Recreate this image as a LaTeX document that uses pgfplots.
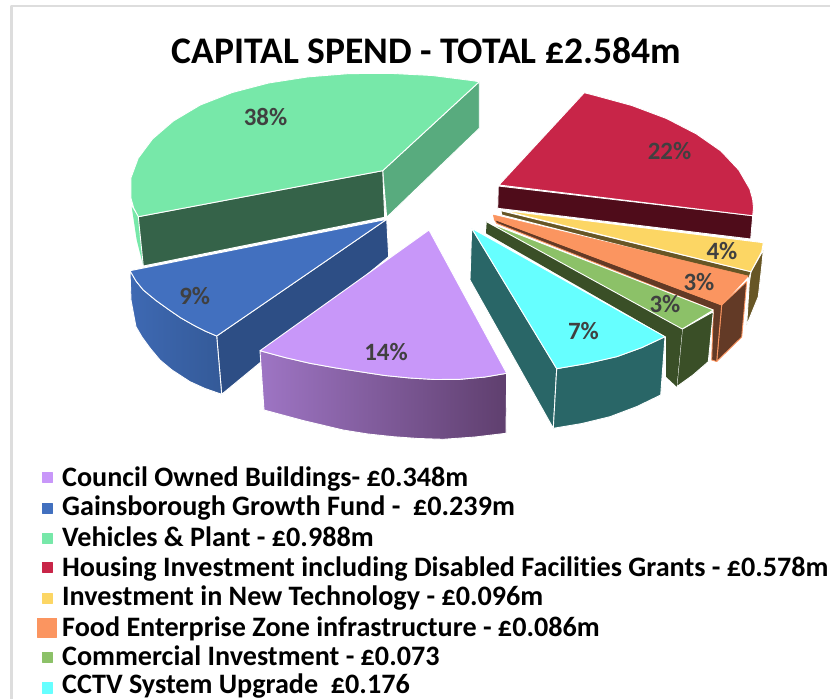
\documentclass[border=0pt]{standalone}
\usepackage{pgfplots}
\pgfplotsset{compat=1.18}
\usepackage{fontspec}
\setmainfont[Ligatures=CommonOff]{Carlito}
\definecolor{veh}{HTML}{77E8A9}\definecolor{vehL}{HTML}{58AB7E}\definecolor{vehD}{HTML}{356349}
\definecolor{gai}{HTML}{4270BF}\definecolor{gaiD}{HTML}{2D4E85}\definecolor{gaiA}{HTML}{3E69B3}\definecolor{gaiB}{HTML}{345A98}
\definecolor{cou}{HTML}{C897F9}\definecolor{couA}{HTML}{9E75C4}\definecolor{couB}{HTML}{5F3F6E}
\definecolor{hou}{HTML}{C82548}\definecolor{houD}{HTML}{4F0C1A}
\definecolor{tec}{HTML}{FCD664}\definecolor{tecD}{HTML}{675625}
\definecolor{foo}{HTML}{FB9560}\definecolor{fooD}{HTML}{633A26}
\definecolor{com}{HTML}{8CC168}\definecolor{comD}{HTML}{3A4F27}
\definecolor{cct}{HTML}{66FFFF}\definecolor{cctD}{HTML}{296667}
\definecolor{frameg}{HTML}{DDDDDD}\definecolor{lab}{HTML}{404040}
\newcommand{\pct}[3]{\node[text=lab,font=\fontsize{25}{27}\selectfont\bfseries] at (axis cs:#1,#2) {#3\%};}
\newcommand{\leg}[2]{\node[anchor=base west,inner sep=0pt,text=black,font=\fontsize{28.25}{30}\selectfont\bfseries] at (axis cs:62,#1) {#2};}
\newcommand{\key}[3]{\addplot[only marks,mark=square*,mark size=5.1bp,mark options={solid,line width=0.2pt,draw=#1,fill=#1}] coordinates {(#2,#3)};}
\begin{document}
\begin{tikzpicture}
\begin{axis}[at={(0,0)},anchor=south west,width=830bp,height=699bp,scale only axis,
  xmin=0,xmax=830,ymin=0,ymax=699,y dir=reverse,axis lines=none,clip=false,
  every axis plot/.append style={line join=round},
  piece/.style={draw=white,line width=0.9pt,fill=#1}]
% frame
\addplot[frameg,line width=2.4pt] coordinates {(11.5,699)(11.5,6)(830,6)};
% Vehicles & Plant
\addplot[piece=vehL] coordinates {(479.3,81.7)(479.3,128.3)(386.7,217.3)(382.7,170.7)} --cycle;
\addplot[piece=veh,draw=none] coordinates {(131.7,206.7)(138.3,216.7)(143.3,266)(136.7,240)} --cycle;
\addplot[piece=vehD] coordinates {(138.3,216.7)(382.7,170.7)(384.7,217.3)(143.3,266)} --cycle;
\addplot[piece=veh] coordinates {(479.3,81.7)(471.4,80.5)(432.1,75.5)(390.9,73.4)(349.1,73.6)(307.9,76.9)(268.6,83)(232.3,92.5)(200.3,105)(173.4,121)(152.5,139)(138.2,158.2)(130.9,178)(130.9,198)(133.7,208)(138.3,216.7)(382.7,170.7)} --cycle;
% Gainsborough Growth Fund
\addplot[piece=gaiD] coordinates {(386.7,219.3)(388.7,256.7)(221.7,394.3)(216.7,336)} --cycle;
\addplot[draw=white,line width=0.9pt,left color=gaiA,right color=gaiB] coordinates {(130,270.7)(136,281)(143.3,290)(156,300.5)(170,310.5)(181,318)(193.3,325)(205,331)(216.7,336)(221.7,394.3)(205,388.5)(190,381.7)(172,370)(160,360)(150,348)(142,337)(136,326.7)(131,300)} --cycle;
\addplot[piece=gai] coordinates {(130,270.7)(386.7,219.3)(216.7,336)(205,331)(193.3,325)(181,318)(170,310.5)(156,300.5)(143.3,290)(136,281)} --cycle;
% Council Owned Buildings
\addplot[draw=white,line width=0.9pt,left color=couA,right color=couB] coordinates {(260,350.7)(285,357.5)(310,363.3)(335,367.8)(360,371.7)(385,375.5)(410,378)(435,379.5)(460,379.3)(485,377)(506.7,373.3)(506,433.3)(475,437)(443.3,439.3)(418,438.5)(393.3,436.7)(368,434)(343,430)(303,420.5)(264,410)} --cycle;
\addplot[piece=cou] coordinates {(429,230)(506.7,373.3)(485,377)(460,379.3)(435,379.5)(410,378)(385,375.5)(360,371.7)(335,367.8)(310,363.3)(285,357.5)(260,350.7)} --cycle;
% Housing Investment
\addplot[piece=houD] coordinates {(498.3,186)(752.7,215.7)(750.7,239)(497.7,208.3)} --cycle;
\addplot[piece=hou] coordinates {(584.3,92.7)(593.3,95)(631.8,105.5)(666.5,118.5)(696.5,134)(720.9,151)(738.8,170)(749.8,189)(752.6,199)(753.5,208)(752.7,215.7)(499,185)} --cycle;
% Investment in New Technology
\addplot[piece=tecD] coordinates {(751,271.7)(763.3,250)(761.7,266.7)(758.3,296.7)(746.7,325)(749.3,283)} --cycle;
\addplot[piece=tecD] coordinates {(501,210.7)(751,271.7)(749,278)(501.7,215)} --cycle;
\addplot[piece=tec] coordinates {(501,210)(763.3,242.7)(761.7,251.7)(751,271.7)} --cycle;
% Food Enterprise Zone infrastructure
\addplot[draw=foo,line width=0.9pt,fill=fooD] coordinates {(721.7,305)(746.7,281.7)(741.7,337)(716.7,361.5)} --cycle;
\addplot[draw=foo,line width=0.9pt,fill=fooD] coordinates {(494.3,219.3)(721.7,305)(716.7,361.5)(711.7,360)(713.3,310)(496.7,223.3)} --cycle;
\addplot[draw=foo,fill=foo,line width=0.5pt] coordinates {(493.3,215)(748.3,276)(721.7,305)(494.3,219.3)} --cycle;
% Commercial Investment
\addplot[piece=comD] coordinates {(682.3,329)(713.3,311.7)(708.3,361.7)(693,375)(676.7,386.7)} --cycle;
\addplot[draw=none,fill=comD] coordinates {(486.7,221.7)(682.3,329)(676.7,386.7)(666,376.7)(666,336.7)(486,233.3)} --cycle;
\addplot[piece=com] coordinates {(487,222)(713.3,310)(682.3,329)} --cycle;
% CCTV System Upgrade
\addplot[piece=cctD] coordinates {(471.7,228.3)(556.7,368.7)(553.3,428.3)(470,280)} --cycle;
\addplot[piece=cctD] coordinates {(556.7,368.7)(587,363.5)(616.7,356.7)(642,347.5)(665,336.7)(660.7,395)(637,406.5)(610,416.7)(582,423.5)(553.3,428.3)} --cycle;
\addplot[piece=cct] coordinates {(471.7,228.3)(665,336.7)(642,347.5)(616.7,356.7)(587,363.5)(556.7,368.7)} --cycle;
% share labels
\pct{265.5}{116.7}{38}\pct{669.5}{150.7}{22}\pct{194.7}{295.7}{9}\pct{386}{352.3}{14}
\pct{583.5}{330.7}{7}\pct{665}{304}{3}\pct{699}{281.7}{3}\pct{722}{250.7}{4}
% title
\node[text=black,font=\fontsize{37.7}{40}\selectfont\bfseries,anchor=base] at (axis cs:426.5,63.5) {CAPITAL SPEND - TOTAL £2.584m};
% legend keys
\key{cou}{47.3}{477}
\key{gai}{47.3}{508}
\key{veh}{47.3}{538}
\key{hou}{47.3}{567}
\key{tec}{47.3}{598}
\addplot[only marks,mark=square*,mark size=9.5bp,mark options={solid,line width=0.2pt,draw=foo,fill=foo,rounded corners=2.5bp}] coordinates {(47,627.5)};
\key{com}{47.3}{657}
\key{cct}{47.3}{687.5}
% legend text
\leg{486}{Council Owned Buildings- £0.348m}
\leg{515.5}{Gainsborough Growth Fund -\ \ £0.239m}
\leg{546}{Vehicles \& Plant - £0.988m}
\leg{576}{Housing Investment including Disabled Facilities Grants - £0.578m}
\leg{605}{Investment in New Technology - £0.096m}
\leg{636}{Food Enterprise Zone infrastructure - £0.086m}
\leg{665}{Commercial Investment - £0.073}
\leg{693.5}{CCTV System Upgrade\ \ £0.176}
\end{axis}
\pgfresetboundingbox
\path (0,0) rectangle (830bp,699bp);
\end{tikzpicture}
\end{document}
